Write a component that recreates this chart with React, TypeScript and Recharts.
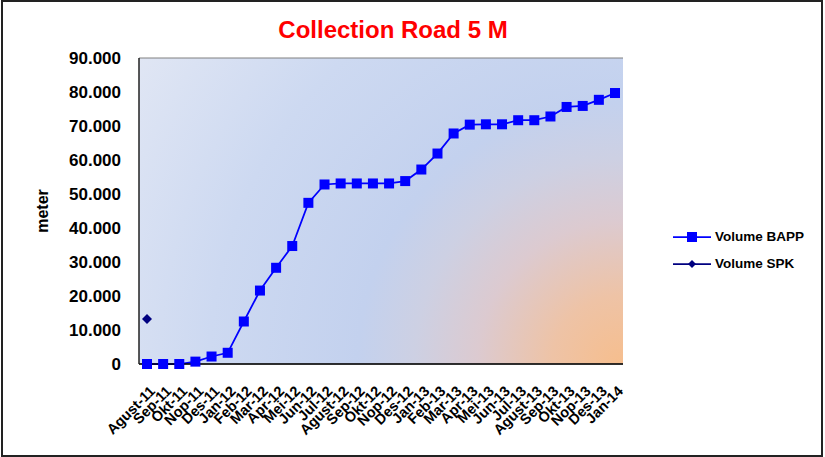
import React from 'react';
import { LineChart, Line, XAxis, YAxis, CartesianGrid, Legend } from 'recharts';

const categories = ['Agust-11','Sep-11','Okt-11','Nop-11','Des-11','Jan-12','Feb-12','Mar-12','Apr-12','Mei-12','Jun-12','Jul-12','Agust-12','Sep-12','Okt-12','Nop-12','Des-12','Jan-13','Feb-13','Mar-13','Apr-13','Mei-13','Jun-13','Jul-13','Agust-13','Sep-13','Okt-13','Nop-13','Des-13','Jan-14'];
const volumeBAPP = [0,0,0,700,2200,3300,12500,21600,28300,34700,47400,52800,53100,53100,53100,53100,53800,57200,61900,67800,70400,70500,70500,71700,71700,72800,75600,75900,77700,79700];
const volumeSPK: (number | null)[] = [13200, ...new Array(29).fill(null)];
const yTicks = [0,10000,20000,30000,40000,50000,60000,70000,80000,90000];

const data = categories.map((c, i) => ({ name: c, bapp: volumeBAPP[i], spk: volumeSPK[i] }));

const FONT = '"Liberation Sans", Arial, Helvetica, sans-serif';

const fmt = (v: number) => (v === 0 ? '0' : `${Math.round(v / 1000)}.000`);

const XTick = (props: any) => {
  const { x, y, payload } = props;
  return (
    <g transform={`translate(${x},${y})`}>
      <text x={9} y={20} textAnchor="end" transform="rotate(-45 9 20)" fontFamily={FONT} fontWeight="bold" fontSize={14.5} fill="#000">
        {payload.value}
      </text>
    </g>
  );
};

const SquareDot = (props: any) => {
  const { cx, cy, index } = props;
  if (cx == null || cy == null) return <g key={`s${index}`} />;
  return <rect key={`s${index}`} x={cx - 5} y={cy - 5} width={10} height={10} fill="#0000FF" />;
};

const DiamondDot = (props: any) => {
  const { cx, cy, index, value } = props;
  if (cx == null || cy == null || value == null) return <g key={`d${index}`} />;
  return <path key={`d${index}`} d={`M${cx},${cy - 5} L${cx + 5},${cy} L${cx},${cy + 5} L${cx - 5},${cy} Z`} fill="#000080" />;
};

const renderLegend = (props: any) => {
  const { payload } = props;
  return (
    <div style={{ fontFamily: FONT, fontWeight: 'bold', fontSize: 13.5, color: '#000' }}>
      {(payload || []).map((p: any) => {
        const isBapp = p.dataKey === 'bapp';
        const col = isBapp ? '#0000FF' : '#000080';
        return (
          <div key={p.value} style={{ display: 'flex', alignItems: 'center', height: 27 }}>
            <svg width={38} height={12} style={{ marginRight: 4 }}>
              <line x1={0} y1={6} x2={38} y2={6} stroke={col} strokeWidth={1.75} />
              {isBapp ? (
                <rect x={14} y={1} width={10} height={10} fill={col} />
              ) : (
                <path d="M19,2 L23,6 L19,10 L15,6 Z" fill={col} />
              )}
            </svg>
            <span>{p.value}</span>
          </div>
        );
      })}
    </div>
  );
};

export default function App() {
  return (
    <div style={{ position: 'absolute', left: 0, top: 0, width: 825, height: 457, background: '#fff' }}>
      <div style={{ position: 'absolute', left: 1, top: 0, width: 822, height: 457, border: '2px solid #222', boxSizing: 'border-box' }} />
      <div style={{ position: 'absolute', left: 0, top: 18, width: 786, textAlign: 'center', fontFamily: FONT, fontWeight: 'bold', fontSize: 24, lineHeight: '24px', color: '#FF0000' }}>
        Collection Road 5 M
      </div>
      <LineChart width={825} height={457} data={data} margin={{ top: 58, right: 52, bottom: 0, left: 0 }}>
        <defs>
          <radialGradient id="plotBg" gradientUnits="userSpaceOnUse" cx={620} cy={364} r={570}>
            <stop offset="0" stopColor="#f6be8e" />
            <stop offset="0.12" stopColor="#eec3a6" />
            <stop offset="0.25" stopColor="#dccad0" />
            <stop offset="0.36" stopColor="#cdd0e3" />
            <stop offset="0.46" stopColor="#c3d1ee" />
            <stop offset="0.72" stopColor="#cdd9f1" />
            <stop offset="1" stopColor="#e0e6f4" />
          </radialGradient>
        </defs>
        <CartesianGrid vertical={false} stroke="#808080" strokeWidth={1} fill="url(#plotBg)" fillOpacity={1} />
        <XAxis
          dataKey="name"
          interval={0}
          tickLine={false}
          axisLine={{ stroke: '#000', strokeWidth: 1.5 }}
          tick={<XTick />}
          height={93}
          padding={{ left: 8, right: 8 }}
        />
        <YAxis
          yAxisId="left"
          domain={[0, 90000]}
          ticks={yTicks}
          tickFormatter={fmt}
          width={139}
          tickLine={false}
          tickMargin={12}
          axisLine={{ stroke: '#222', strokeWidth: 1.5 }}
          tick={{ fontFamily: FONT, fontWeight: 'bold', fontSize: 17, fill: '#000' }}
          label={{ value: 'meter', angle: -90, position: 'insideLeft', offset: 42, style: { textAnchor: 'middle', fontFamily: FONT, fontWeight: 'bold', fontSize: 16, fill: '#000' } }}
          interval={0}
        />
        <YAxis yAxisId="right" orientation="right" domain={[0, 90000]} width={0} tick={false} tickLine={false} axisLine={{ stroke: '#808080', strokeWidth: 1.5 }} />
        <Legend
          layout="vertical"
          verticalAlign="middle"
          align="right"
          content={renderLegend}
          wrapperStyle={{ position: 'absolute', left: 673, top: 223, width: 150, height: 54 }}
        />
        <Line yAxisId="left" type="linear" dataKey="bapp" name="Volume BAPP" stroke="#0000FF" strokeWidth={1.75} dot={SquareDot} activeDot={false} isAnimationActive={false} />
        <Line yAxisId="left" type="linear" dataKey="spk" name="Volume SPK" stroke="#000080" strokeWidth={1.75} dot={DiamondDot} activeDot={false} isAnimationActive={false} connectNulls={false} />
      </LineChart>
    </div>
  );
}
